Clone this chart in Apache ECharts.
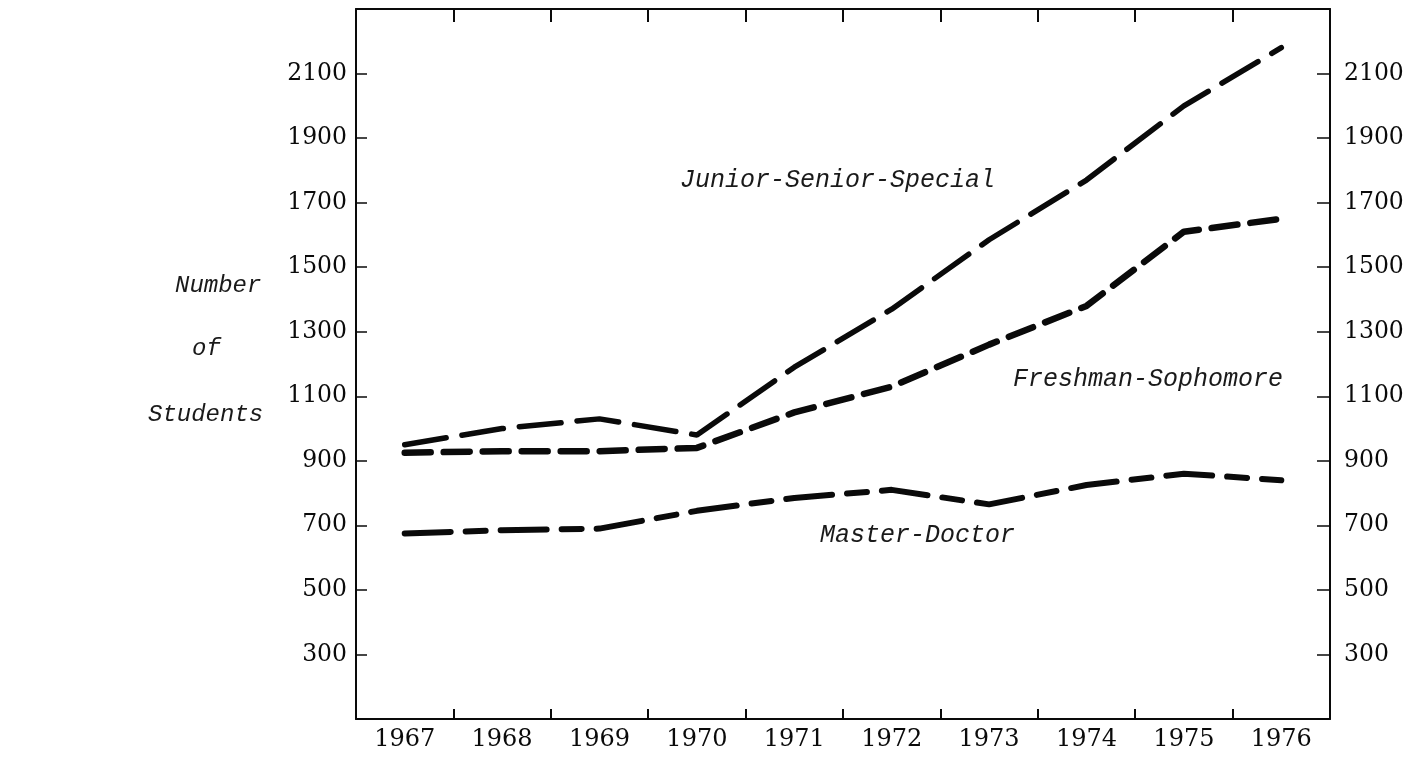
<!DOCTYPE html>
<html>
<head>
<meta charset="utf-8">
<script src="https://cdn.jsdelivr.net/npm/echarts@6/dist/echarts.min.js"></script>
<style>
  html, body { margin: 0; padding: 0; background: #ffffff; }
  #chart { width: 1425px; height: 759px; }
</style>
</head>
<body>
<div id="chart"></div>
<script>
// ---- data ----
var years = ['1967', '1968', '1969', '1970', '1971', '1972', '1973', '1974', '1975', '1976'];
var juniorSeniorSpecial = [950, 1000, 1030, 980, 1190, 1370, 1585, 1770, 2000, 2180];
var freshmanSophomore   = [925, 930, 930, 940, 1050, 1130, 1260, 1380, 1610, 1650];
var masterDoctor        = [675, 685, 690, 745, 785, 810, 765, 825, 860, 840];
var yTickLabels = ['300', '500', '700', '900', '1100', '1300', '1500', '1700', '1900', '2100'];
var seriesNames = ['Junior-Senior-Special', 'Freshman-Sophomore', 'Master-Doctor'];
var axisNameLines = ['Number', 'of', 'Students'];

var INK = '#0a0a0a';
var labelFont = '"DejaVu Serif", "Liberation Serif", serif';
var typeFont = '"Liberation Mono", "DejaVu Sans Mono", monospace';

function yLabel(v) {
  var s = String(v);
  return yTickLabels.indexOf(s) >= 0 ? s : '';
}

var chart = echarts.init(document.getElementById('chart'));
chart.setOption({
  backgroundColor: '#ffffff',
  animation: false,
  grid: { left: 356, right: 95, top: 9, bottom: 40 },
  xAxis: [
    {
      type: 'category',
      data: years,
      position: 'bottom',
      boundaryGap: true,
      axisLine: { lineStyle: { color: INK, width: 2 } },
      axisTick: { show: true, inside: true, length: 10, lineStyle: { color: INK, width: 2 } },
      axisLabel: { color: INK, fontFamily: labelFont, fontSize: 24, margin: 9 },
      splitLine: { show: false }
    },
    {
      type: 'category',
      data: years,
      position: 'top',
      boundaryGap: true,
      axisLine: { show: true, lineStyle: { color: INK, width: 2 } },
      axisTick: { show: true, inside: true, length: 13, lineStyle: { color: INK, width: 2 } },
      axisLabel: { show: false },
      splitLine: { show: false }
    }
  ],
  yAxis: [
    {
      type: 'value',
      position: 'left',
      min: 100, max: 2300, interval: 200,
      axisLine: { show: true, lineStyle: { color: INK, width: 2 } },
      axisTick: { show: true, inside: true, length: 11, lineStyle: { color: INK, width: 1.5 } },
      axisLabel: { color: INK, fontFamily: labelFont, fontSize: 23.5, margin: 9, formatter: yLabel },
      splitLine: { show: false }
    },
    {
      type: 'value',
      position: 'right',
      min: 100, max: 2300, interval: 200,
      axisLine: { show: true, lineStyle: { color: INK, width: 2 } },
      axisTick: { show: true, inside: true, length: 13, lineStyle: { color: INK, width: 1.5 } },
      axisLabel: { color: INK, fontFamily: labelFont, fontSize: 23.5, margin: 14, formatter: yLabel },
      splitLine: { show: false }
    }
  ],
  series: [
    {
      name: seriesNames[0], type: 'line', data: juniorSeniorSpecial,
      xAxisIndex: 0, yAxisIndex: 0, symbol: 'none', smooth: false,
      lineStyle: { color: INK, width: 5.5, type: [42, 16], cap: 'round' }
    },
    {
      name: seriesNames[1], type: 'line', data: freshmanSophomore,
      xAxisIndex: 0, yAxisIndex: 0, symbol: 'none', smooth: false,
      lineStyle: { color: INK, width: 6.5, type: [26, 13], cap: 'round' }
    },
    {
      name: seriesNames[2], type: 'line', data: masterDoctor,
      xAxisIndex: 0, yAxisIndex: 0, symbol: 'none', smooth: false,
      lineStyle: { color: INK, width: 6, type: [46, 15, 20, 15], cap: 'round' }
    }
  ],
  graphic: [
    { type: 'text', left: 680, top: 168,
      style: { text: seriesNames[0], font: 'italic 25px ' + typeFont, fill: '#1a1a1a' } },
    { type: 'text', left: 1013, top: 367,
      style: { text: seriesNames[1], font: 'italic 25px ' + typeFont, fill: '#1a1a1a' } },
    { type: 'text', left: 820, top: 523,
      style: { text: seriesNames[2], font: 'italic 25px ' + typeFont, fill: '#1a1a1a' } },
    { type: 'text', left: 175, top: 274,
      style: { text: axisNameLines[0], font: 'italic 24px ' + typeFont, fill: '#1a1a1a' } },
    { type: 'text', left: 192, top: 337,
      style: { text: axisNameLines[1], font: 'italic 24px ' + typeFont, fill: '#1a1a1a' } },
    { type: 'text', left: 148, top: 403,
      style: { text: axisNameLines[2], font: 'italic 24px ' + typeFont, fill: '#1a1a1a' } }
  ]
});
</script>
</body>
</html>
